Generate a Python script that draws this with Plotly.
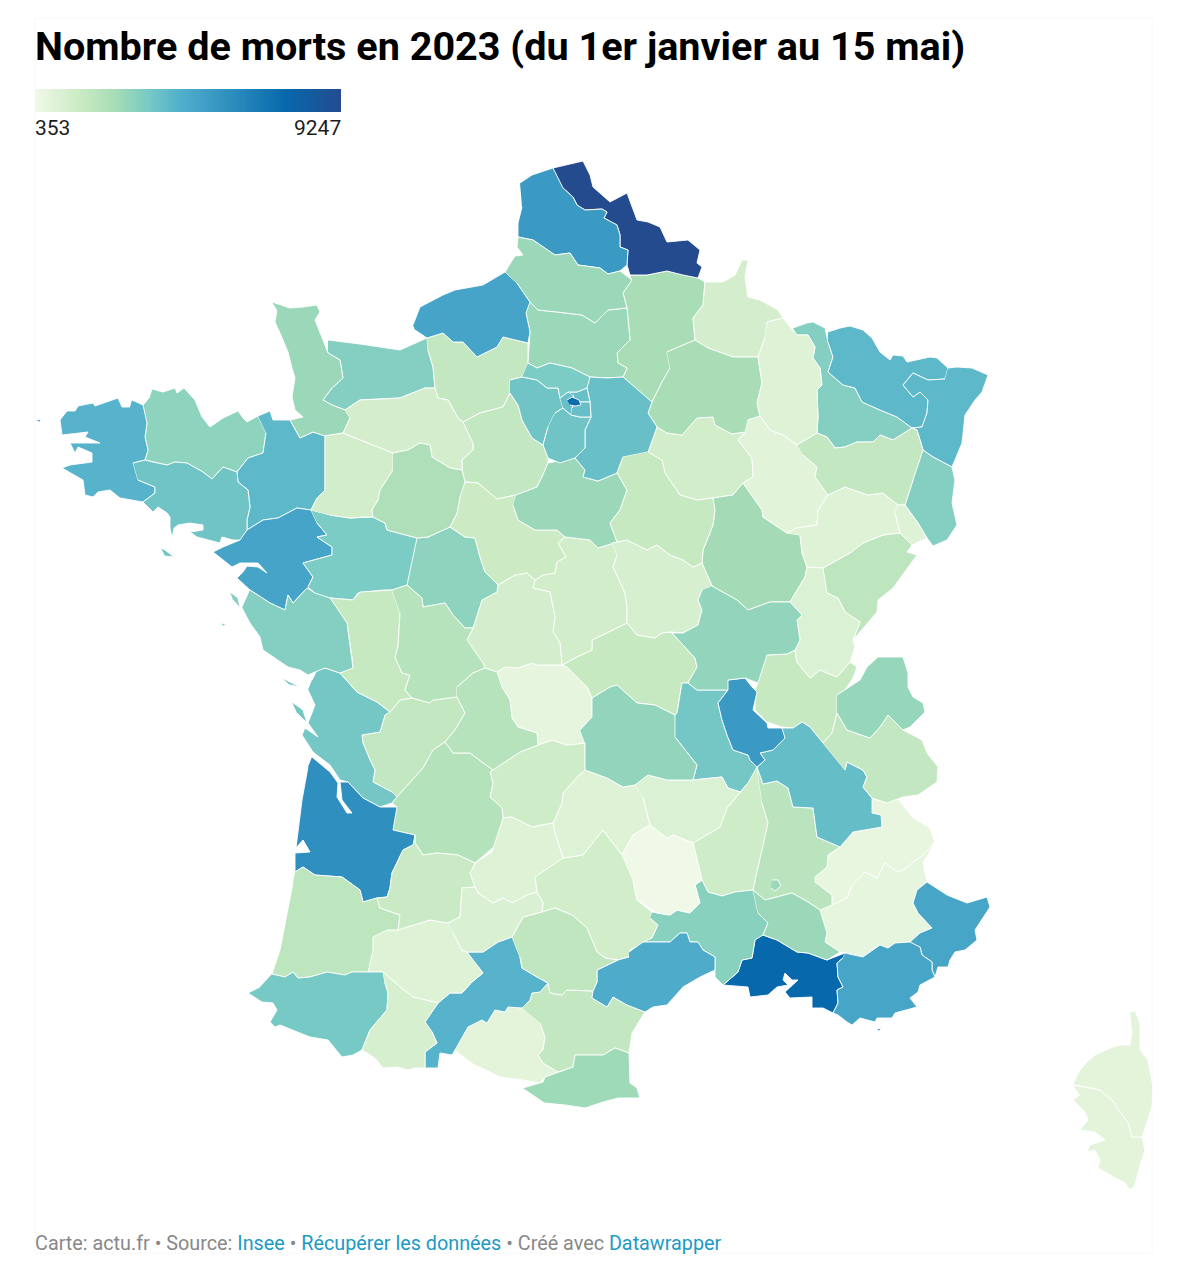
import numpy as np
import plotly.graph_objects as go
from plotly.colors import sample_colorscale

TITRE = "Nombre de morts en 2023 (du 1er janvier au 15 mai)"
VAL_MIN = 353
VAL_MAX = 9247

CODES = ["01","02","03","04","05","06","07","08","09","10","11","12","13","14","15","16","17","18","19",
         "21","22","23","24","25","26","27","28","29","2A","2B","30","31","32","33","34","35","36","37","38","39",
         "40","41","42","43","44","45","46","47","48","49","50","51","52","53","54","55","56","57","58","59",
         "60","61","62","63","64","65","66","67","68","69","70","71","72","73","74","76","77","78","79",
         "80","81","82","83","84","85","86","87","88","89","90","91","92","93","94","95","75"]
MORTS = [1776,2665,1776,708,620,4978,1509,1331,798,1420,1865,1420,7646,3377,976,1865,3733,1420,1509,
         2754,3199,708,2310,2043,2132,1865,1865,4444,798,798,3288,4444,976,5956,4711,4266,1331,3199,4089,1065,
         2043,1598,3733,1065,5067,2932,976,1687,353,3555,2932,2665,887,1420,3377,976,3822,4266,1242,9247,
         2932,1331,5512,3110,3644,1242,2843,4266,3377,5512,976,3110,2488,1865,3021,5067,4000,3822,1776,
         2932,1954,1109,4978,2932,3377,2221,2221,1865,1776,976,3822,4000,4000,4000,3555,7468]

# map outlines in map units (one unit = one pixel of the page), rings split by |
OUTLINES = {
"29":"132,400 143,405 147,423 145,437 148,450 145,460 133,463 138,480 155,487 155,493 143,502 120,498 110,490 98,492 93,497 85,495 83,480 62,468 70,465 92,462 92,453 78,447 75,453 70,443 100,443 85,437 88,432 62,435 60,420 67,411 75,411 78,406 93,403 95,406 118,398 122,407 130,407|36,420 41,419 40,422",
"22":"143,405 149,398 152,389 163,392 175,388 177,393 184,388 195,400 202,417 210,427 223,418 238,411 243,418 247,422 258,416 266,433 263,453 248,458 237,472 223,467 212,479 203,472 187,463 175,462 167,465 153,462 145,460 148,450 145,437 147,423",
"56":"133,463 145,460 153,462 167,465 175,462 187,463 203,472 212,479 223,467 237,472 238,482 248,490 250,507 247,520 247,530 240,540 233,540 222,537 220,543 197,537 190,532 203,530 203,525 190,523 178,525 174,528 172,538 170,528 170,517 167,513 158,507 153,512 143,502 155,493 155,487 138,480|161,548 165,550 174,557 165,556",
"35":"258,416 270,411 273,420 290,420 300,438 313,432 325,436 325,463 325,490 317,498 311,510 297,508 278,518 263,520 247,530 247,520 250,507 248,490 238,482 237,472 248,458 263,453 266,433",
"50":"272,302 280,305 290,308 303,307 317,305 320,312 315,320 323,340 328,353 340,360 343,378 332,388 323,400 332,405 345,410 350,418 343,433 325,436 313,432 300,438 290,420 303,417 295,410 292,397 295,378 292,368 288,352 280,333 275,322 277,310",
"14":"328,340 360,344 400,350 427,338 428,350 433,367 435,388 425,388 400,398 360,400 345,410 332,405 323,400 332,388 343,378 340,360 328,353",
"61":"345,410 360,400 400,398 425,388 435,388 438,398 448,400 458,418 463,422 473,443 473,450 462,460 462,470 450,468 432,457 430,445 420,443 408,450 393,453 360,440 343,433 350,418",
"53":"311,510 317,498 325,490 325,463 325,436 343,433 360,440 393,453 393,470 380,490 378,500 372,510 373,517 365,517 350,518 330,515",
"27":"427,338 443,333 453,342 463,342 477,357 497,347 503,337 528,343 528,363 522,377 510,380 510,393 503,407 480,413 463,422 458,418 448,400 438,398 435,388 433,367 428,350",
"76":"413,325 420,307 443,295 455,290 483,285 505,272 517,283 530,302 526,313 530,332 528,343 503,337 497,347 477,357 463,342 453,342 443,333 427,338 415,330",
"80":"505,272 515,256 523,255 517,247 518,237 533,240 555,255 570,253 578,265 600,268 608,274 620,271 632,280 623,293 627,308 608,310 595,323 582,315 557,312 538,310 530,302 517,283",
"62":"520,183 532,175 553,168 563,188 573,197 577,205 585,210 602,209 607,212 604,218 617,225 620,235 620,247 628,250 627,265 620,271 608,274 600,268 578,265 570,253 555,255 533,240 518,237 518,223 522,207",
"59":"553,168 583,161 590,175 593,187 610,202 627,193 637,220 648,222 660,227 667,242 688,240 700,250 697,263 702,267 698,278 683,275 667,271 647,275 630,275 627,265 628,250 620,247 620,235 617,225 604,218 607,212 602,209 585,210 577,205 573,197 563,188",
"02":"630,275 647,275 667,271 683,275 698,278 705,282 703,305 693,318 695,340 667,352 670,368 662,382 652,402 640,392 623,377 627,368 618,363 617,353 630,340 627,308 623,293 632,280",
"60":"530,302 538,310 557,312 582,315 595,323 608,310 627,308 630,340 617,353 618,363 627,368 623,377 607,378 590,377 572,368 550,363 537,368 528,363 530,332 526,313",
"95":"528,363 537,368 550,363 572,368 590,377 587,388 577,392 568,392 560,398 558,388 547,388 537,380 522,377",
"78":"510,380 522,377 537,380 547,388 558,388 560,398 563,408 555,413 548,427 543,445 532,438 522,420 518,405 510,393",
"92":"560,398 568,392 573,395 575,402 572,408 571,415 563,408",
"93":"568,392 577,392 587,388 589,398 590,402 575,402 573,395",
"94":"572,408 575,402 590,402 591,417 580,417 571,415",
"75":"567,400 572,397 579,400 581,405 575,406 570,405",
"91":"555,413 563,408 571,415 580,417 591,417 585,430 585,448 575,458 560,463 548,458 543,445 548,427",
"77":"590,377 607,378 623,377 640,392 652,402 648,413 657,427 648,452 623,457 617,473 598,481 583,477 585,470 575,458 585,448 585,430 591,417 590,402 589,398 587,388",
"51":"667,352 695,340 708,348 733,357 758,357 762,383 757,403 760,416 748,420 745,432 732,434 715,425 713,417 697,418 682,435 667,433 657,427 648,413 652,402 662,382 670,368",
"08":"695,340 693,318 703,305 705,282 723,282 735,275 742,260 748,260 745,277 748,297 760,300 778,310 783,318 767,322 765,338 758,357 733,357 708,348",
"55":"767,322 783,318 790,327 797,335 808,335 815,347 813,358 820,368 822,385 817,390 818,417 817,433 797,445 783,435 770,430 760,416 757,403 762,383 758,357 765,338",
"54":"793,328 807,323 813,322 825,328 828,342 833,357 828,372 843,385 855,388 862,402 880,410 897,417 912,428 893,440 880,435 873,442 857,442 845,447 835,448 827,437 817,433 818,417 817,390 822,385 820,368 813,358 815,347 808,335 797,335",
"57":"828,332 840,328 850,326 863,330 872,338 880,352 890,360 893,355 903,356 907,362 930,357 937,358 948,368 945,379 928,380 913,373 903,385 913,397 920,392 928,400 927,413 922,427 912,428 897,417 880,410 862,402 855,388 843,385 828,372 833,357 828,342",
"67":"948,368 957,367 972,368 988,375 982,392 975,400 965,415 963,433 962,443 952,467 933,457 923,450 917,430 912,428 922,427 927,413 928,400 920,392 913,397 903,385 913,373 928,380 945,379",
"68":"923,450 933,457 952,467 955,480 952,503 957,525 947,540 933,546 927,538 918,523 905,505 913,480",
"88":"797,445 817,433 827,437 835,448 845,447 857,442 873,442 880,435 893,440 912,428 917,430 923,450 913,480 905,505 898,505 883,493 868,495 845,487 828,495 815,477 817,467 803,455",
"52":"748,420 760,416 770,430 783,435 797,445 803,455 817,467 815,477 828,495 818,510 817,525 797,528 787,533 763,517 762,510 743,483 753,477 752,458 738,440 745,432",
"10":"648,452 657,427 667,433 682,435 697,418 713,417 715,425 732,434 745,432 738,440 752,458 753,477 743,483 733,495 713,498 697,500 680,495 665,473 662,460",
"89":"648,452 662,460 665,473 680,495 697,500 713,498 715,510 713,525 703,550 702,563 693,567 683,560 670,555 657,545 647,550 627,540 617,542 610,523 620,510 627,490 617,473 623,457",
"21":"713,498 733,495 743,483 762,510 763,517 787,533 800,535 802,553 807,567 805,577 790,602 770,602 748,610 737,600 712,586 702,563 703,550 713,525 715,510",
"70":"787,533 797,528 817,525 818,510 828,495 845,487 868,495 883,493 898,505 895,513 900,533 883,535 863,543 850,553 823,568 807,567 802,553 800,535",
"90":"898,505 905,505 918,523 927,538 912,545 900,533 895,513",
"25":"823,568 850,553 863,543 883,535 900,533 912,545 907,552 917,555 893,588 878,600 877,612 853,640 860,622 845,612 838,598 827,593",
"39":"823,568 827,593 838,598 845,612 860,622 853,640 855,647 850,662 837,677 820,670 810,678 797,662 795,650 800,640 797,620 802,615 790,602 805,577 807,567",
"01":"767,655 787,654 795,650 797,662 810,678 820,670 837,677 850,662 857,667 853,678 845,690 837,695 837,713 832,733 823,743 810,727 802,722 793,728 782,727 767,722 755,710 755,690 758,683",
"71":"712,586 737,600 748,610 770,602 790,602 802,615 797,620 800,640 795,650 787,654 767,655 758,683 750,680 745,678 728,680 728,690 713,690 697,690 688,683 697,667 695,658 672,633 683,633 698,625 702,610 698,600 702,590",
"58":"612,543 617,542 627,540 647,550 657,545 670,555 683,560 693,567 702,563 712,586 702,590 698,600 702,610 698,625 683,633 670,632 662,633 655,638 637,635 627,623 627,607 625,593 613,567 617,555",
"45":"516,495 537,487 542,477 548,463 563,460 575,458 585,470 583,477 598,481 617,473 627,490 620,510 610,523 617,542 598,548 590,540 565,537 557,530 535,530 518,520 513,505",
"28":"463,422 480,413 503,407 510,393 518,405 522,420 532,438 543,445 548,458 548,463 542,477 537,487 516,495 497,499 478,483 465,482 462,470 462,460 473,450 473,443",
"72":"393,453 408,450 420,443 430,445 432,457 450,468 462,470 465,482 460,497 457,513 450,527 428,537 417,538 387,530 385,523 373,517 372,510 378,500 380,490 393,470",
"41":"465,482 478,483 497,499 516,495 513,505 518,520 535,530 557,530 565,537 558,543 566,557 557,562 555,573 543,575 535,580 527,573 515,575 498,585 485,572 480,557 475,538 465,537 450,527 457,513 460,497",
"37":"417,538 428,537 450,527 465,537 475,538 480,557 485,572 498,585 497,592 482,600 473,628 465,628 453,615 445,603 423,607 422,598 407,585",
"49":"311,510 330,515 350,518 365,517 373,517 385,523 387,530 417,538 407,585 392,590 383,590 358,593 353,600 330,598 317,595 308,587 313,577 303,563 332,555 332,547 317,537 327,535 317,523",
"44":"247,530 263,520 278,518 297,508 311,510 317,523 327,535 317,537 332,547 332,555 303,563 313,577 308,587 315,593 307,588 293,603 288,595 285,610 270,603 250,590 237,578 243,572 247,566 258,567 267,573 258,563 240,563 232,567 213,552 223,547 240,540",
"85":"250,590 270,603 285,610 288,595 293,603 307,588 315,593 330,598 347,623 352,657 353,668 340,673 325,668 315,672 308,675 300,670 288,667 263,650 260,637 250,623 242,608|230,592 238,598 240,608 233,600|222,623 227,625 222,626",
"79":"330,598 353,600 360,592 392,590 400,613 398,647 395,657 402,673 410,675 405,690 412,698 400,700 390,712 377,702 357,692 340,673 353,668 352,657 347,623",
"86":"392,590 407,585 422,598 423,607 445,603 453,615 465,628 473,628 467,640 483,663 485,668 473,673 457,687 457,697 433,700 430,703 412,698 405,690 410,675 402,673 395,657 398,647 400,613",
"36":"467,640 473,628 482,600 497,592 498,585 515,575 527,573 535,580 533,588 550,592 555,617 553,632 560,643 562,665 537,665 532,663 518,668 505,667 497,672 485,668 483,663",
"18":"535,580 543,575 555,573 557,562 566,557 558,543 565,537 590,540 598,548 617,542 612,543 617,555 613,567 625,593 627,607 627,623 592,640 592,650 577,657 562,665 560,643 553,632 555,617 550,592 533,588",
"03":"562,665 577,657 592,650 592,640 627,623 637,635 655,638 662,633 670,632 672,633 695,658 697,667 688,683 682,683 677,713 675,715 655,705 637,703 617,685 610,687 592,698 587,687 567,667",
"23":"497,672 505,667 518,668 532,663 537,665 562,665 567,667 587,687 592,698 592,717 580,730 585,743 567,745 552,740 538,745 537,733 518,727 512,718 510,700 502,687",
"87":"457,687 473,673 485,668 497,672 502,687 510,700 512,718 518,727 537,733 538,745 520,752 493,770 482,762 470,753 453,753 445,742 455,730 465,713 457,697",
"16":"390,712 400,700 412,698 430,703 433,700 457,697 465,713 455,730 445,742 433,750 423,768 412,780 397,797 392,792 373,782 375,770 370,760 363,743 362,735 380,732 385,715",
"17":"312,680 317,670 325,668 340,673 357,692 377,702 390,712 385,715 380,732 362,735 363,743 370,760 375,770 373,782 392,792 397,797 392,803 380,807 363,798 348,782 340,780 330,765 313,752 302,735 305,728 318,737 308,723 315,705 308,690|282,678 300,687 290,685|292,702 303,710 307,723 297,713",
"33":"312,757 330,772 338,783 337,797 347,813 352,813 342,800 340,782 348,782 363,798 380,807 397,807 393,830 415,835 413,845 403,850 392,873 390,888 387,897 377,898 363,902 360,890 342,877 315,875 303,867 295,872 295,853 310,852 303,840 296,848 302,800 308,767",
"24":"397,807 392,803 397,797 412,780 423,768 433,750 445,742 453,753 470,753 482,762 493,770 490,772 493,783 490,797 502,808 503,818 502,840 475,863 458,855 437,853 423,855 415,843 415,835 393,830",
"47":"415,835 415,843 423,855 437,853 458,855 475,863 470,873 475,887 462,888 460,917 448,923 430,920 407,927 398,930 400,915 380,908 377,898 387,897 390,888 392,873 403,850 413,845",
"40":"295,872 303,867 315,875 342,877 360,890 363,902 377,898 380,908 400,915 398,930 387,930 373,937 373,950 368,972 352,972 345,975 327,972 310,977 298,978 293,972 285,977 272,974 280,950 287,913 293,883",
"32":"387,930 398,930 407,927 430,920 448,923 453,933 462,950 467,952 477,965 483,973 472,982 462,993 450,993 438,1003 413,997 400,987 390,978 383,972 368,972 373,950 373,937",
"82":"448,923 460,917 462,888 475,887 478,893 493,903 503,898 512,903 527,895 537,892 543,903 542,912 523,917 512,937 498,942 483,952 467,952 462,950 453,933",
"46":"470,873 475,863 492,852 503,818 512,817 532,827 553,823 555,833 563,858 535,877 537,892 527,895 512,903 503,898 493,903 478,893 475,887",
"19":"493,770 520,752 538,745 552,740 567,745 585,743 585,760 585,770 577,777 563,793 562,803 553,823 532,827 512,817 503,818 502,808 490,797 493,783 490,772",
"15":"577,777 585,770 607,778 623,787 635,785 643,797 650,825 633,835 622,855 603,830 583,855 563,858 555,833 553,823 562,803 563,793",
"63":"580,730 592,717 592,698 610,687 617,685 637,703 655,705 675,715 675,737 697,765 693,780 667,780 648,775 635,785 623,787 607,778 585,770 585,760 585,743",
"42":"675,715 677,713 682,683 688,683 697,690 713,690 728,690 718,703 722,720 727,735 733,750 748,755 757,767 748,783 740,792 728,788 722,777 693,780 697,765 675,737",
"69":"728,680 745,678 752,687 757,692 753,710 767,723 768,728 782,728 785,738 773,750 760,753 765,760 757,767 750,760 748,755 733,750 727,735 722,720 718,703 728,690",
"38":"782,728 793,728 802,722 810,727 823,743 845,770 847,762 863,770 867,777 863,787 872,798 872,813 881,815 882,827 853,832 840,847 817,837 813,808 793,807 788,788 777,781 763,784 757,767 765,760 760,753 773,750 785,738",
"73":"823,743 832,733 837,713 847,730 870,738 880,727 888,715 903,730 922,740 927,753 938,767 937,782 918,795 903,797 887,803 872,798 863,787 867,777 863,770 847,762 845,770",
"74":"837,695 845,690 860,680 867,667 878,657 903,657 908,673 908,687 913,697 923,703 925,712 910,727 903,730 888,715 880,727 870,738 847,730 837,713",
"26":"757,767 763,784 777,781 788,788 793,807 813,808 817,837 840,847 828,855 827,867 815,877 815,882 832,895 832,905 820,910 808,902 792,893 765,900 753,890 760,860 768,823 762,803",
"07":"757,767 762,803 768,823 760,860 753,890 735,892 722,896 708,892 702,880 693,843 720,827 727,808 740,792 748,783",
"43":"635,785 648,775 667,780 693,780 722,777 728,788 740,792 727,808 720,827 693,843 673,835 667,838 650,825 643,797",
"48":"622,855 633,835 650,825 667,838 673,835 693,843 702,880 695,885 700,903 690,913 677,910 670,915 657,913 637,900 633,880",
"12":"563,858 583,855 603,830 622,855 633,880 637,900 652,912 650,918 658,925 652,938 630,950 629,957 618,960 605,958 597,952 587,928 572,915 555,908 542,912 543,903 537,892 535,877",
"81":"512,937 523,917 542,912 555,908 572,915 587,928 597,952 605,958 618,960 607,965 597,970 597,982 593,991 567,990 562,995 550,993 548,983 537,977 522,968 520,957",
"31":"467,952 483,952 498,942 512,937 520,957 522,968 537,977 548,983 540,992 532,993 530,1000 522,1008 508,1007 505,1012 495,1010 487,1023 482,1020 468,1027 455,1050 452,1055 440,1053 438,1068 425,1068 425,1052 437,1043 432,1032 425,1022 438,1003 450,993 462,993 472,982 483,973 477,965",
"65":"383,972 390,978 400,987 413,997 438,1003 425,1022 432,1032 437,1043 425,1052 425,1068 415,1068 408,1070 397,1067 383,1068 375,1058 362,1050 370,1030 387,1010 388,993 385,983",
"64":"272,974 285,977 293,972 298,978 310,977 327,972 345,975 352,972 368,972 383,972 385,983 388,993 387,1010 370,1030 362,1050 353,1055 342,1057 328,1040 310,1037 280,1025 275,1027 270,1022 277,1010 273,1003 262,1002 248,993 260,987",
"09":"455,1050 468,1027 482,1020 487,1023 495,1010 505,1012 508,1007 522,1008 540,1023 545,1037 543,1050 538,1055 543,1063 558,1072 545,1077 540,1083 522,1080 500,1077 475,1065",
"11":"522,1008 530,1000 532,993 540,992 548,983 550,993 562,995 567,990 593,991 592,998 607,1007 613,997 627,1005 645,1012 632,1033 629,1053 615,1048 603,1055 575,1055 573,1067 558,1072 543,1063 538,1055 543,1050 545,1037 540,1023",
"66":"523,1088 543,1082 545,1077 558,1072 573,1067 575,1055 603,1055 615,1048 629,1053 630,1083 637,1088 640,1098 618,1098 603,1102 585,1108 565,1105 545,1103",
"34":"629,952 643,942 658,942 670,942 680,933 687,933 690,942 698,942 703,950 715,957 715,970 700,977 683,987 667,1005 653,1007 645,1012 627,1005 613,997 607,1007 592,998 593,991 597,982 597,970 607,965 618,960 629,957",
"30":"652,912 670,915 677,910 690,913 700,903 695,885 702,880 708,892 722,896 735,892 753,890 758,913 768,923 763,935 755,940 752,958 742,960 738,972 723,985 715,977 715,957 703,950 698,942 690,942 687,933 680,933 670,942 658,942 643,942 652,938 658,925 650,918",
"84":"753,890 765,900 792,893 808,902 820,910 827,933 825,942 840,952 827,960 808,953 797,952 777,940 763,935 768,923 758,913|772,880 778,880 781,886 775,891 771,888",
"13":"763,935 777,940 797,952 808,953 827,960 845,953 843,958 837,963 838,977 843,987 837,990 838,1003 833,1013 823,1008 812,1008 812,997 790,998 785,992 798,980 792,980 785,973 783,980 788,985 777,987 768,995 750,997 748,987 723,985 738,972 742,960 752,958 755,940",
"83":"845,953 863,957 880,945 888,948 895,943 910,942 920,947 922,955 932,962 932,970 935,977 920,985 918,992 910,998 917,1007 895,1013 892,1018 877,1018 875,1022 860,1018 852,1025 847,1022 838,1015 833,1013 838,1003 837,990 843,987 838,977 837,963 843,958|877,1029 882,1028 879,1031",
"06":"910,942 920,933 932,928 918,913 913,903 917,890 927,882 947,895 967,903 987,897 990,907 983,918 975,930 977,940 965,950 955,952 950,960 948,967 938,967 935,977 932,970 932,962 922,955 920,947",
"05":"872,798 887,803 898,799 912,817 930,828 935,842 923,855 913,862 907,868 897,872 885,863 877,878 865,872 852,885 847,898 832,905 832,895 815,882 815,877 827,867 828,855 840,847 853,832 882,827 881,815 872,813",
"04":"832,905 847,898 852,885 865,872 877,878 885,863 897,872 907,868 913,862 923,855 935,842 923,863 925,873 927,882 917,890 913,903 918,913 932,928 920,933 910,942 895,943 888,948 880,945 863,957 845,953 840,952 825,942 827,933 820,910",
"2B":"1130,1012 1135,1011 1140,1023 1140,1050 1148,1060 1153,1087 1152,1107 1145,1128 1142,1137 1132,1137 1128,1122 1120,1112 1112,1100 1100,1090 1092,1088 1075,1085 1073,1084 1080,1070 1087,1062 1095,1055 1110,1048 1120,1045 1130,1045 1132,1030",
"2A":"1073,1085 1092,1088 1100,1090 1112,1100 1120,1112 1128,1122 1132,1137 1142,1137 1145,1150 1140,1165 1135,1185 1130,1190 1125,1183 1110,1175 1098,1168 1100,1160 1095,1150 1087,1152 1090,1145 1105,1140 1095,1132 1080,1130 1088,1120 1085,1112 1073,1100 1080,1095",
}

SCALE = [[0, "#f0f9e8"], [0.14, "#ccebc5"], [0.26, "#a8ddb5"], [0.36, "#7bccc4"], [0.47, "#52b0cc"],
         [0.65, "#2b8cbe"], [0.82, "#0868ac"], [1, "#254b8f"]]


def ring_xy(path):
    xs, ys = [], []
    for ring in path.split("|"):
        for pt in ring.split():
            a, b = pt.split(",")
            xs.append(int(a))
            ys.append(int(b))
        xs.append(None)
        ys.append(None)
    return xs, ys


fig = go.Figure()

for code, morts in zip(CODES, MORTS):
    xs, ys = ring_xy(OUTLINES[code])
    couleur = sample_colorscale(SCALE, (morts - VAL_MIN) / (VAL_MAX - VAL_MIN))[0]
    fig.add_trace(go.Scatter(x=xs, y=ys, mode="lines", fill="toself", fillcolor=couleur,
                             line=dict(color="white", width=0.9), showlegend=False,
                             hoverinfo="text", text=f"{code} : {morts}"))

# legend ramp
rampe = np.linspace(VAL_MIN, VAL_MAX, 120)
fig.add_trace(go.Heatmap(x=rampe, y=[0, 1], z=[rampe, rampe], zmin=VAL_MIN, zmax=VAL_MAX, colorscale=SCALE,
                         showscale=False, hoverinfo="skip", xaxis="x2", yaxis="y2"))

fig.add_shape(type="rect", x0=35, x1=1152, y0=18, y1=1253, line=dict(color="#f8f8f8", width=1), layer="below")

fig.add_annotation(x=35, y=46, text=f"<b>{TITRE}</b>", showarrow=False, xanchor="left", yanchor="middle",
                   xshift=-2, font=dict(family="Roboto", size=39.6, color="#000000"))
fig.add_annotation(x=35, y=128, text=str(VAL_MIN), showarrow=False, xanchor="left", yanchor="middle", xshift=-2,
                   font=dict(family="Roboto", size=21, color="#1d1d1d"))
fig.add_annotation(x=341, y=128, text=str(VAL_MAX), showarrow=False, xanchor="right", yanchor="middle", xshift=2,
                   font=dict(family="Roboto", size=21, color="#1d1d1d"))
lien = '<span style="color:#1d9ac4">%s</span>'
pied = ("Carte: actu.fr • Source: " + lien % "Insee" + " • " + lien % "Récupérer les données"
        + " • Créé avec " + lien % "Datawrapper")
fig.add_annotation(x=35, y=1243, text=pied, showarrow=False, xanchor="left", yanchor="middle", xshift=-2,
                   font=dict(family="Roboto", size=19.8, color="#888888"))

fig.update_layout(
    width=1192,
    height=1270,
    margin=dict(l=0, r=0, t=0, b=0),
    plot_bgcolor="white",
    paper_bgcolor="white",
    xaxis=dict(range=[0, 1192], visible=False, fixedrange=True),
    yaxis=dict(range=[1270, 0], visible=False, fixedrange=True),
    xaxis2=dict(domain=[35 / 1192, 341 / 1192], range=[VAL_MIN, VAL_MAX], visible=False, anchor="y2"),
    yaxis2=dict(domain=[1 - 112 / 1270, 1 - 89 / 1270], range=[0, 1], visible=False, anchor="x2"),
)

fig.write_html("out.html", config={"displayModeBar": False}, post_script="document.body.style.margin='0';")
